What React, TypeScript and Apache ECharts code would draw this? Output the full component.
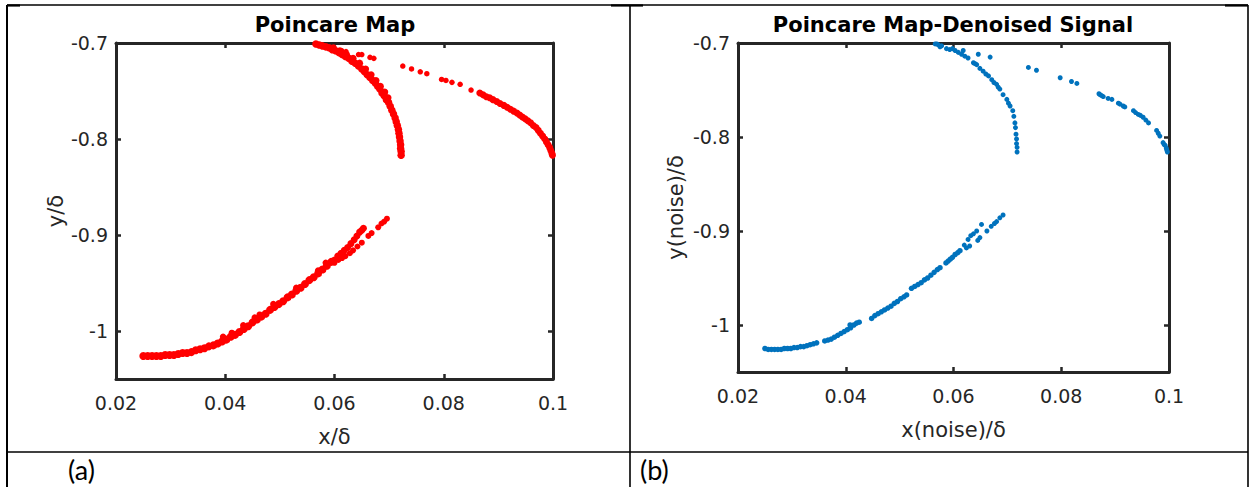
import React, { useEffect, useRef } from "react";
import * as echarts from "echarts";

// ---------- data ----------
const X_MIN = 0.02;
const X_MAX = 0.1;
const X_STEP = 0.02;
const Y_MIN = -1.05;
const Y_MAX = -0.7;
const Y_TICKS = [-1, -0.9, -0.8, -0.7];

const TITLE_A = "Poincare Map";
const TITLE_B = "Poincare Map-Denoised Signal";
const XNAME_A = "x/δ";
const YNAME_A = "y/δ";
const XNAME_B = "x(noise)/δ";
const YNAME_B = "y(noise)/δ";
const CAPTION_A = "(a)";
const CAPTION_B = "(b)";

// (a) raw signal, red
const redUpperArc = [
  [0.0566, -0.701], [0.0572, -0.702], [0.0578, -0.703], [0.0584, -0.704], [0.059, -0.705],
  [0.0596, -0.707], [0.0602, -0.708], [0.0608, -0.71], [0.0614, -0.712], [0.062, -0.714],
  [0.0626, -0.716], [0.0632, -0.719], [0.0638, -0.721], [0.0644, -0.724], [0.065, -0.727],
  [0.0655, -0.73], [0.066, -0.733], [0.0665, -0.736], [0.067, -0.739], [0.0675, -0.742],
  [0.0679, -0.745], [0.0683, -0.748], [0.0687, -0.752], [0.0691, -0.755], [0.0695, -0.759],
  [0.0699, -0.762], [0.0702, -0.766], [0.0705, -0.77], [0.0708, -0.774], [0.0711, -0.778],
  [0.0713, -0.782], [0.0715, -0.786], [0.0717, -0.79], [0.0718, -0.794], [0.0719, -0.798],
  [0.072, -0.802], [0.0721, -0.806], [0.0721, -0.81], [0.0722, -0.813], [0.0722, -0.817],
];
const redUpperArcEdge = [
  [0.0598, -0.705], [0.061, -0.708], [0.0622, -0.712], [0.0634, -0.716], [0.0646, -0.721],
  [0.0657, -0.727], [0.0667, -0.733], [0.0676, -0.739], [0.0684, -0.745], [0.0692, -0.751],
  [0.0698, -0.757],
];
const redRightSparse = [
  [0.0613, -0.708], [0.0621, -0.709], [0.0644, -0.712], [0.065, -0.712], [0.0665, -0.715],
  [0.0672, -0.716], [0.0725, -0.724], [0.0741, -0.727], [0.0757, -0.73], [0.0769, -0.732],
  [0.0796, -0.738], [0.0804, -0.739], [0.0815, -0.741], [0.083, -0.743], [0.085, -0.749],
];
const redRightDense = [
  [0.0866, -0.752], [0.0872, -0.754], [0.0878, -0.756], [0.0884, -0.757], [0.089, -0.759],
  [0.0897, -0.761], [0.0903, -0.763], [0.091, -0.765], [0.0916, -0.767], [0.0922, -0.769],
  [0.0928, -0.771], [0.0934, -0.773], [0.0939, -0.775], [0.0944, -0.777], [0.0949, -0.779],
  [0.0954, -0.781], [0.0959, -0.783], [0.0964, -0.786], [0.0969, -0.788], [0.0973, -0.791],
  [0.0977, -0.794], [0.0981, -0.797], [0.0985, -0.8], [0.0988, -0.803], [0.0991, -0.806],
  [0.0994, -0.809], [0.0996, -0.812], [0.0998, -0.815], [0.0999, -0.817],
];
const redLowerBranch = [
  [0.025, -1.026], [0.0258, -1.026], [0.0266, -1.026], [0.0274, -1.026], [0.0282, -1.026],
  [0.029, -1.025], [0.0298, -1.025], [0.0306, -1.025], [0.0314, -1.024], [0.0322, -1.023],
  [0.033, -1.023], [0.0338, -1.022], [0.0346, -1.02], [0.0354, -1.019], [0.0362, -1.018],
  [0.037, -1.016], [0.0378, -1.015], [0.0386, -1.013], [0.0394, -1.011], [0.0402, -1.009],
  [0.041, -1.006], [0.0418, -1.004], [0.0426, -1.001], [0.0434, -0.998], [0.0442, -0.995],
  [0.045, -0.991], [0.0458, -0.988], [0.0466, -0.985], [0.0474, -0.982], [0.0482, -0.978],
  [0.049, -0.975], [0.0498, -0.972], [0.0506, -0.969], [0.0514, -0.965], [0.0522, -0.962],
  [0.053, -0.958], [0.0538, -0.955], [0.0546, -0.951], [0.0554, -0.947], [0.0562, -0.944],
  [0.057, -0.94], [0.0578, -0.936], [0.0586, -0.932], [0.0594, -0.928],
];
const redLowerBumps = [
  [0.0396, -1.006], [0.0412, -1.002], [0.0433, -0.994], [0.0454, -0.986], [0.0463, -0.983],
  [0.0488, -0.972], [0.053, -0.955], [0.057, -0.937], [0.0584, -0.929],
];
const redFork1 = [
  [0.06, -0.926], [0.0606, -0.922], [0.0612, -0.919], [0.0618, -0.916], [0.0624, -0.913],
  [0.063, -0.909], [0.0636, -0.905], [0.0641, -0.901], [0.0646, -0.897], [0.065, -0.895],
  [0.0653, -0.893],
];
const redFork2 = [
  [0.06, -0.929], [0.0607, -0.926], [0.0614, -0.924], [0.062, -0.922], [0.0628, -0.919],
  [0.0634, -0.916], [0.0642, -0.912], [0.065, -0.908], [0.0662, -0.901], [0.0668, -0.898],
  [0.068, -0.892], [0.0686, -0.888], [0.0691, -0.886], [0.0696, -0.883],
];

// (b) denoised signal, blue
const blueUpperArc = [
  [0.0566, -0.701], [0.0569, -0.701], [0.0572, -0.702], [0.0575, -0.704], [0.0578, -0.703],
  [0.0587, -0.706], [0.0593, -0.707], [0.0598, -0.706], [0.0603, -0.708], [0.0609, -0.71],
  [0.0615, -0.712], [0.0621, -0.714], [0.0627, -0.716], [0.0637, -0.721], [0.064, -0.722],
  [0.0643, -0.723], [0.0649, -0.727], [0.0655, -0.73], [0.066, -0.733], [0.0665, -0.735],
  [0.0671, -0.739], [0.0675, -0.742], [0.068, -0.744], [0.0683, -0.747], [0.0686, -0.749],
  [0.0692, -0.755], [0.0699, -0.76], [0.0702, -0.764], [0.0705, -0.767], [0.071, -0.772],
  [0.0712, -0.778], [0.0714, -0.785], [0.0715, -0.79], [0.0716, -0.797], [0.0717, -0.802],
  [0.0717, -0.807], [0.0718, -0.811], [0.0718, -0.816],
];
const blueRightBranch = [
  [0.0618, -0.708], [0.0646, -0.712], [0.0668, -0.715], [0.0739, -0.726], [0.0754, -0.729],
  [0.0798, -0.737], [0.0819, -0.741], [0.0829, -0.743], [0.087, -0.754], [0.0872, -0.755],
  [0.0875, -0.756], [0.0878, -0.757], [0.0887, -0.759], [0.0894, -0.76], [0.0906, -0.764],
  [0.0909, -0.765], [0.0915, -0.767], [0.0918, -0.768], [0.0934, -0.772], [0.0938, -0.774],
  [0.0943, -0.776], [0.0947, -0.777], [0.0952, -0.779], [0.0957, -0.782], [0.0962, -0.785],
  [0.0977, -0.793], [0.098, -0.796], [0.0983, -0.799], [0.0989, -0.806], [0.0991, -0.808],
  [0.0993, -0.809], [0.0995, -0.812], [0.0996, -0.814], [0.0997, -0.816],
];
const blueLowerBranch = [
  [0.025, -1.025], [0.0256, -1.026], [0.0262, -1.026], [0.0268, -1.026], [0.0274, -1.026],
  [0.028, -1.026], [0.0286, -1.025], [0.0292, -1.025], [0.0298, -1.025], [0.0304, -1.024],
  [0.031, -1.024], [0.0316, -1.023], [0.0322, -1.023], [0.0328, -1.022], [0.0334, -1.021],
  [0.034, -1.02], [0.0346, -1.019],
  [0.0361, -1.017], [0.0367, -1.016], [0.0373, -1.015], [0.0379, -1.013], [0.0385, -1.011],
  [0.0391, -1.009], [0.0397, -1.007], [0.0403, -1.005], [0.0408, -1.0], [0.0409, -1.003],
  [0.0415, -1.0], [0.042, -0.998], [0.0425, -0.997],
  [0.0448, -0.993], [0.0454, -0.99], [0.046, -0.988], [0.0466, -0.986], [0.0472, -0.984],
  [0.0478, -0.982], [0.0484, -0.98], [0.049, -0.977], [0.0496, -0.975], [0.0502, -0.972],
  [0.0508, -0.97], [0.0513, -0.968],
  [0.0522, -0.961], [0.0528, -0.959], [0.0534, -0.957], [0.054, -0.955], [0.0546, -0.952],
  [0.0552, -0.95], [0.0558, -0.947], [0.0564, -0.944], [0.057, -0.941], [0.0575, -0.939],
  [0.0586, -0.934], [0.059, -0.932], [0.0594, -0.93], [0.0598, -0.928], [0.0603, -0.925],
  [0.0608, -0.923], [0.0612, -0.921],
];
const blueFork1 = [
  [0.062, -0.915], [0.0627, -0.909], [0.0632, -0.905], [0.0637, -0.903], [0.0643, -0.9],
  [0.0652, -0.893],
];
const blueFork2 = [
  [0.0624, -0.918], [0.063, -0.916], [0.0645, -0.91], [0.0649, -0.907], [0.0662, -0.9],
  [0.067, -0.895], [0.0676, -0.892], [0.068, -0.89], [0.0686, -0.886], [0.0692, -0.883],
];

// ---------- styling ----------
const FONT = '"DejaVu Sans", "Liberation Sans", Arial, sans-serif';
const AXIS = "#262626";
const RED = "#ff0000";
const BLUE = "#0072bd";

function makeXAxes(gridIndex: number, name: string) {
  const common = {
    type: "value" as const,
    gridIndex,
    min: X_MIN,
    max: X_MAX,
    interval: X_STEP,
    splitLine: { show: false },
    axisLine: { show: true, onZero: false, lineStyle: { color: AXIS, width: 3 } },
    axisTick: { show: true, inside: true, length: 5, lineStyle: { color: AXIS, width: 2.5 } },
  };
  return [
    {
      ...common,
      position: "bottom",
      name,
      nameLocation: "middle",
      nameGap: 47,
      nameTextStyle: { fontFamily: FONT, fontSize: 21, color: AXIS },
      axisLabel: {
        show: true, margin: 14, fontFamily: FONT, fontSize: 19, color: AXIS,
        showMinLabel: true, showMaxLabel: true,
      },
    },
    { ...common, position: "top", axisLabel: { show: false } },
  ];
}

function makeYAxes(gridIndex: number, name: string, gap: number) {
  const common = {
    type: "value" as const,
    gridIndex,
    min: Y_MIN,
    max: Y_MAX,
    splitLine: { show: false },
    axisLine: { show: true, onZero: false, lineStyle: { color: AXIS, width: 3 } },
    axisTick: {
      show: true, inside: true, length: 5, customValues: Y_TICKS,
      lineStyle: { color: AXIS, width: 2.5 },
    },
  };
  return [
    {
      ...common,
      position: "left",
      name,
      nameLocation: "middle",
      nameGap: gap,
      nameRotate: 90,
      nameTextStyle: { fontFamily: FONT, fontSize: 21, color: AXIS },
      axisLabel: {
        show: true, margin: 8, fontFamily: FONT, fontSize: 19, color: AXIS,
        customValues: Y_TICKS,
      },
    },
    { ...common, position: "right", axisLabel: { show: false } },
  ];
}

function scatter(data: number[][], axis: number, color: string, size: number) {
  return {
    type: "scatter",
    xAxisIndex: axis,
    yAxisIndex: axis,
    data,
    symbol: "circle",
    symbolSize: size,
    clip: false,
    itemStyle: { color, opacity: 1 },
    emphasis: { disabled: true },
    silent: true,
  };
}

function line(x1: number, y1: number, x2: number, y2: number, w: number) {
  return {
    type: "line",
    silent: true,
    shape: { x1, y1, x2, y2 },
    style: { stroke: "#000", lineWidth: w },
  };
}

export default function App() {
  const ref = useRef<HTMLDivElement>(null);

  useEffect(() => {
    if (!ref.current) return;
    const chart = echarts.init(ref.current, undefined, { renderer: "svg" });
    const option = {
      animation: false,
      backgroundColor: "#ffffff",
      grid: [
        { left: 116, top: 43, right: 701, bottom: 108, outerBoundsMode: "none", containLabel: false },
        { left: 738, top: 43, right: 85, bottom: 115, outerBoundsMode: "none", containLabel: false },
      ],
      xAxis: [...makeXAxes(0, XNAME_A), ...makeXAxes(1, XNAME_B)],
      yAxis: [...makeYAxes(0, YNAME_A, 50), ...makeYAxes(1, YNAME_B, 52)],
      series: [
        scatter(redUpperArc, 0, RED, 7.5),
        scatter(redUpperArcEdge, 0, RED, 7),
        scatter(redRightSparse, 0, RED, 5.5),
        scatter(redRightDense, 0, RED, 7),
        scatter(redLowerBranch, 0, RED, 8),
        scatter(redLowerBumps, 0, RED, 6.5),
        scatter(redFork1, 0, RED, 7),
        scatter(redFork2, 0, RED, 6),
        scatter(blueUpperArc, 2, BLUE, 5),
        scatter(blueRightBranch, 2, BLUE, 5),
        scatter(blueLowerBranch, 2, BLUE, 5.5),
        scatter(blueFork1, 2, BLUE, 5),
        scatter(blueFork2, 2, BLUE, 5),
      ],
      graphic: [
        line(7, 5, 1248, 5, 1.3),
        line(7, 5.5, 20, 5.5, 2.2),
        line(611, 5.5, 643, 5.5, 2.2),
        line(1225, 5.5, 1248, 5.5, 2.2),
        line(7, 5, 7, 487, 2),
        line(630, 5, 630, 487, 1.6),
        line(1248, 5, 1248, 487, 1.6),
        line(7, 452, 1248, 452, 1.6),
        {
          type: "text", x: 335, y: 25, silent: true,
          style: {
            text: TITLE_A, fontFamily: FONT, fontSize: 21, fontWeight: "bold",
            fill: "#000", align: "center", verticalAlign: "middle",
          },
        },
        {
          type: "text", x: 953, y: 25, silent: true,
          style: {
            text: TITLE_B, fontFamily: FONT, fontSize: 21, fontWeight: "bold",
            fill: "#000", align: "center", verticalAlign: "middle",
          },
        },
        {
          type: "text", x: 68, y: 469, silent: true,
          style: {
            text: CAPTION_A, fontFamily: "Lato, 'Open Sans', sans-serif", fontSize: 27,
            fill: "#000", align: "left", verticalAlign: "middle",
          },
        },
        {
          type: "text", x: 640, y: 469, silent: true,
          style: {
            text: CAPTION_B, fontFamily: "Lato, 'Open Sans', sans-serif", fontSize: 27,
            fill: "#000", align: "left", verticalAlign: "middle",
          },
        },
      ],
    };
    chart.setOption(option as any);
    return () => chart.dispose();
  }, []);

  return (
    <div
      ref={ref}
      style={{ position: "fixed", left: 0, top: 0, width: 1254, height: 487, background: "#fff" }}
    />
  );
}
